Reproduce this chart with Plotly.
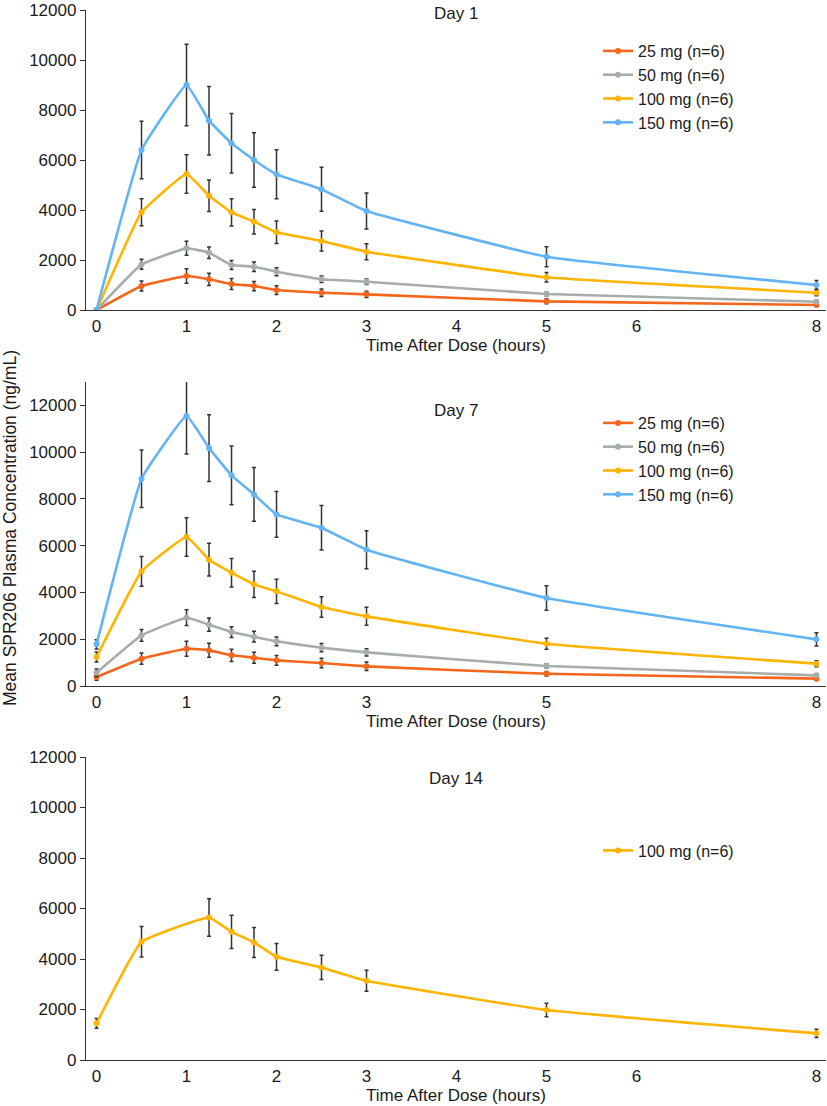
import plotly.graph_objects as go

# ---------------- data ----------------
times = [0, 0.5, 1, 1.25, 1.5, 1.75, 2, 2.5, 3, 5, 8]
times_d14 = [0, 0.5, 1.25, 1.5, 1.75, 2, 2.5, 3, 5, 8]

dose_labels = ["25 mg (n=6)", "50 mg (n=6)", "100 mg (n=6)", "150 mg (n=6)"]

# Day 1 means and SDs
d1_25 = [0, 960, 1360, 1227, 1040, 960, 800, 693, 627, 347, 200]
d1_25_sd = [0, 200, 290, 245, 220, 185, 175, 150, 125, 100, 40]
d1_50 = [0, 1827, 2467, 2293, 1800, 1733, 1533, 1227, 1133, 640, 333]
d1_50_sd = [0, 200, 280, 230, 180, 190, 160, 130, 110, 80, 50]
d1_100 = [0, 3907, 5440, 4573, 3907, 3533, 3107, 2760, 2333, 1307, 693]
d1_100_sd = [0, 540, 770, 630, 545, 490, 450, 400, 320, 190, 125]
d1_150 = [0, 6400, 9000, 7573, 6667, 6000, 5427, 4827, 3960, 2133, 1000]
d1_150_sd = [0, 1150, 1630, 1370, 1190, 1090, 980, 880, 720, 400, 180]

# Day 7 means and SDs
d7_25 = [385, 1169, 1596, 1525, 1311, 1211, 1097, 983, 841, 527, 314]
d7_25_sd = [140, 240, 320, 300, 265, 235, 205, 205, 180, 95, 40]
d7_50 = [570, 2166, 2921, 2622, 2309, 2109, 1910, 1639, 1439, 855, 456]
d7_50_sd = [160, 250, 335, 285, 230, 228, 190, 178, 157, 100, 60]
d7_100 = [1240, 4902, 6370, 5401, 4845, 4347, 4047, 3378, 2978, 1810, 955]
d7_100_sd = [215, 640, 820, 700, 610, 560, 520, 440, 385, 235, 130]
d7_150 = [1781, 8864, 11543, 10175, 9007, 8194, 7339, 6769, 5829, 3762, 1995]
d7_150_sd = [200, 1230, 1620, 1425, 1260, 1150, 980, 950, 810, 520, 280]

# Day 14 means and SDs (100 mg only)
d14_100 = [1451, 4681, 5644, 5077, 4655, 4088, 3666, 3139, 1978, 1055]
d14_100_sd = [190, 605, 740, 660, 595, 530, 480, 420, 265, 165]

x_ticks_full = [0, 1, 2, 3, 4, 5, 6, 8]
x_ticks_d7 = [0, 1, 2, 3, 5, 8]
y_ticks = [0, 2000, 4000, 6000, 8000, 10000, 12000]

colors = ["#F4661B", "#A7ADAB", "#FFB400", "#62B4F4"]

# ---------------- figure ----------------
W, H = 827, 1106
FONT = "Liberation Sans, Arial, sans-serif"
TXT = "#1a1a1a"
fig = go.Figure()


def px_x(p):
    return p / W


def px_y(p):
    return 1 - p / H


def add(x, y, sd, name, color, xa, ya, legend):
    fig.add_trace(go.Scatter(
        x=x, y=y, name=name, mode="lines+markers",
        line=dict(color=color, width=2.6, shape="spline", smoothing=0.3),
        marker=dict(color=color, size=6),
        error_y=dict(type="data", array=sd, visible=True, color="#333333",
                     thickness=1.5, width=2),
        xaxis=xa, yaxis=ya, legend=legend, showlegend=True,
    ))


for vals, sds, lab, col in zip([d1_25, d1_50, d1_100, d1_150],
                               [d1_25_sd, d1_50_sd, d1_100_sd, d1_150_sd],
                               dose_labels, colors):
    add(times, vals, sds, lab, col, "x", "y", "legend")

for vals, sds, lab, col in zip([d7_25, d7_50, d7_100, d7_150],
                               [d7_25_sd, d7_50_sd, d7_100_sd, d7_150_sd],
                               dose_labels, colors):
    add(times, vals, sds, lab, col, "x2", "y2", "legend2")

add(times_d14, d14_100, d14_100_sd, dose_labels[2], colors[2], "x3", "y3", "legend3")


def dom_y(top, bottom):
    return [px_y(bottom), px_y(top)]


xdom = [px_x(86), px_x(826)]
xrange_ = [-0.117, 8.106]
axis_common = dict(showline=True, linecolor="#333333", linewidth=1.3,
                   showgrid=False, zeroline=False, automargin=False,
                   tickfont=dict(family=FONT, size=17, color=TXT))

xtitle = dict(text="Time After Dose (hours)", font=dict(family=FONT, size=17, color=TXT),
              standoff=4)

layout = dict(
    width=W, height=H, autosize=False,
    margin=dict(l=0, r=0, t=0, b=0, autoexpand=False),
    paper_bgcolor="white", plot_bgcolor="white",
    font=dict(family=FONT, size=17, color=TXT),
    xaxis=dict(domain=xdom, range=xrange_, tickvals=x_ticks_full, ticks="",
               anchor="y", title=xtitle, **axis_common),
    xaxis2=dict(domain=xdom, range=xrange_, tickvals=x_ticks_d7, ticks="",
                anchor="y2", title=xtitle, **axis_common),
    xaxis3=dict(domain=xdom, range=xrange_, tickvals=x_ticks_full, ticks="",
                anchor="y3", title=xtitle, **axis_common),
    yaxis=dict(domain=dom_y(10, 310), range=[0, 12000], tickvals=y_ticks,
               tickformat="d", ticks="outside", ticklen=5, tickcolor="#333333",
               anchor="x", **axis_common),
    yaxis2=dict(domain=dom_y(382, 686), range=[0, 13000], tickvals=y_ticks,
                tickformat="d", ticks="outside", ticklen=5, tickcolor="#333333",
                anchor="x2", **axis_common),
    yaxis3=dict(domain=dom_y(757, 1060), range=[0, 12000], tickvals=y_ticks,
                tickformat="d", ticks="outside", ticklen=5, tickcolor="#333333",
                anchor="x3", **axis_common),
)

leg_common = dict(font=dict(family=FONT, size=16, color=TXT),
                  bgcolor="rgba(0,0,0,0)", xanchor="left", yanchor="top",
                  traceorder="normal", tracegroupgap=0, itemwidth=30)
layout["legend"] = dict(x=px_x(598), y=px_y(34), **leg_common)
layout["legend2"] = dict(x=px_x(598), y=px_y(406), **leg_common)
layout["legend3"] = dict(x=px_x(598), y=px_y(833.5), **leg_common)

annos = []
for txt, ypx in [("Day 1", 14), ("Day 7", 410), ("Day 14", 778)]:
    annos.append(dict(text=txt, x=px_x(456), y=px_y(ypx), xref="paper", yref="paper",
                      xanchor="center", yanchor="middle", showarrow=False,
                      font=dict(family=FONT, size=17, color=TXT)))
annos.append(dict(text="Mean SPR206 Plasma Concentration (ng/mL)", textangle=-90,
                  x=px_x(10), y=px_y(528), xref="paper", yref="paper",
                  xanchor="center", yanchor="middle", showarrow=False,
                  font=dict(family=FONT, size=17.5, color=TXT)))
layout["annotations"] = annos

fig.update_layout(**layout)
fig.write_html(
    "out.html",
    config={"displayModeBar": False},
    post_script="document.body.style.margin='0px';document.body.style.overflow='hidden';",
)
